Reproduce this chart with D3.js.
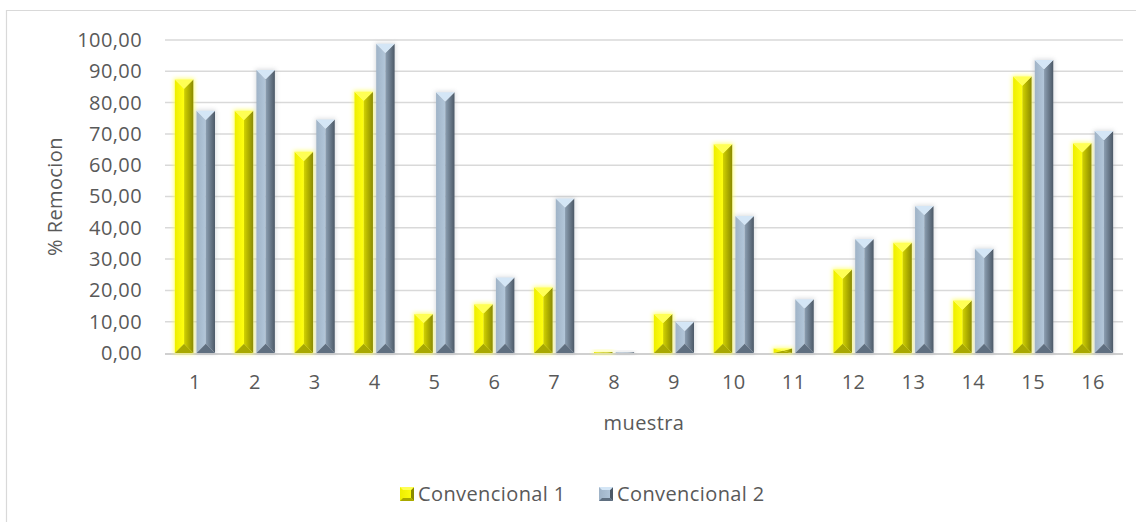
<!DOCTYPE html>
<html>
<head>
<meta charset="utf-8">
<script src="https://cdn.jsdelivr.net/npm/d3@7"></script>
<style>
  html, body { margin: 0; padding: 0; background: #ffffff; }
  svg { display: block; }
  text { font-family: "Open Sans", "Noto Sans", sans-serif; fill: #595959; font-size: 20px; letter-spacing: 0.4px; }
</style>
</head>
<body>
<svg id="chart" width="1136" height="522"></svg>
<script>
// Sample numbers 1..16
const categories = ["1","2","3","4","5","6","7","8","9","10","11","12","13","14","15","16"];
const seriesNames = ["Convencional 1", "Convencional 2"];
// % removal per sample
const conv1 = [87.4, 77.4, 64.3, 83.5, 12.5, 15.6, 20.9, 0.3, 12.5, 66.7, 1.4, 26.7, 35.2, 16.8, 88.3, 67.0];
const conv2 = [77.4, 90.4, 74.6, 98.8, 83.3, 24.1, 49.4, 0.2, 10.0, 43.8, 17.2, 36.4, 47.0, 33.3, 93.6, 70.9];
const yTicks = [0, 10, 20, 30, 40, 50, 60, 70, 80, 90, 100];

const svg = d3.select("#chart");
const W = 1136, H = 522;
const plot = { left: 165, right: 1123, top: 40, bottom: 353 };

// outer chart frame (left and top edges visible)
svg.append("path")
  .attr("d", `M6.5,${H} L6.5,10.5 L${W},10.5`)
  .attr("fill", "none").attr("stroke", "#d9d9d9").attr("stroke-width", 1.2);

const y = d3.scaleLinear().domain([0, 100]).range([plot.bottom, plot.top]);
const x0 = d3.scaleBand().domain(categories).range([plot.left, plot.right])
  .paddingInner(0.33).paddingOuter(0.165);
const x1 = d3.scaleBand().domain(seriesNames).range([0, x0.bandwidth()]).paddingInner(0.15);

// colour sets for bevelled bars
const palette = {
  "Convencional 1": {
    top: "#ffff55", bottom: "#a8a800",
    left: ["#eeee00", "#ffff10"], right: ["#d2d200", "#8a8a00"],
    glow: "#ffff60", glowOpacity: 0.85
  },
  "Convencional 2": {
    top: "#d4e6f6", bottom: "#5f6f80",
    left: ["#9fb3c7", "#b3c7da"], right: ["#8c9fb2", "#4c5967"],
    glow: "#9aa0a8", glowOpacity: 0.35
  }
};

const defs = svg.append("defs");
defs.append("filter").attr("id", "soft").attr("x", "-50%").attr("y", "-50%")
  .attr("width", "200%").attr("height", "200%")
  .append("feGaussianBlur").attr("stdDeviation", 2.2);

seriesNames.forEach((s, i) => {
  const p = palette[s];
  const gl = defs.append("linearGradient").attr("id", `left${i}`)
    .attr("x1", 0).attr("x2", 1).attr("y1", 0).attr("y2", 0);
  gl.append("stop").attr("offset", 0).attr("stop-color", p.left[0]);
  gl.append("stop").attr("offset", 1).attr("stop-color", p.left[1]);
  const gr = defs.append("linearGradient").attr("id", `right${i}`)
    .attr("x1", 0).attr("x2", 1).attr("y1", 0).attr("y2", 0);
  gr.append("stop").attr("offset", 0).attr("stop-color", p.right[0]);
  gr.append("stop").attr("offset", 1).attr("stop-color", p.right[1]);
});

// gridlines
svg.append("g").selectAll("line").data(yTicks.slice(1)).join("line")
  .attr("x1", plot.left).attr("x2", plot.right)
  .attr("y1", d => y(d)).attr("y2", d => y(d))
  .attr("stroke", "#d9d9d9").attr("stroke-width", 1.5);

// y-axis labels
const fmt = v => d3.format(".2f")(v).replace(".", ",");
const yAxis = d3.axisLeft(y).tickValues(yTicks).tickFormat(fmt).tickSize(0).tickPadding(0);
const yg = svg.append("g").attr("transform", `translate(142,0)`).call(yAxis);
yg.select(".domain").remove();
yg.attr("font-size", null).attr("font-family", null);
yg.selectAll("text").attr("fill", "#595959");

// bevelled bar drawing
function bevel(g, bx, bw, top, bottom, s, i) {
  const p = palette[s];
  const h = bottom - top;
  const d = Math.min(bw / 2, h / 2);
  const cx = bx + bw / 2;
  const xr = bx + bw;
  // halo / shadow
  g.append("rect").attr("x", bx - 1).attr("y", top - 1).attr("width", bw + 2).attr("height", h + 2)
    .attr("fill", p.glow).attr("opacity", p.glowOpacity).attr("filter", "url(#soft)");
  g.append("polygon")
    .attr("points", [[bx, top], [cx, top + d], [cx, bottom - d], [bx, bottom]].join(" "))
    .attr("fill", `url(#left${i})`);
  g.append("polygon")
    .attr("points", [[cx, top + d], [xr, top], [xr, bottom], [cx, bottom - d]].join(" "))
    .attr("fill", `url(#right${i})`);
  g.append("polygon")
    .attr("points", [[bx, top], [xr, top], [cx, top + d]].join(" "))
    .attr("fill", p.top);
  g.append("polygon")
    .attr("points", [[bx, bottom], [cx, bottom - d], [xr, bottom]].join(" "))
    .attr("fill", p.bottom);
}

// x-axis baseline
svg.append("line").attr("x1", plot.left).attr("x2", plot.right)
  .attr("y1", y(0) + 1).attr("y2", y(0) + 1)
  .attr("stroke", "#d0d0d0").attr("stroke-width", 2.2);

const series = [conv1, conv2];
const bars = svg.append("g");
categories.forEach((c, ci) => {
  seriesNames.forEach((s, si) => {
    const v = series[si][ci];
    const g = bars.append("g");
    bevel(g, x0(c) + x1(s), x1.bandwidth(), y(v), y(0), s, si);
  });
});

// x-axis category labels
const xAxis = d3.axisBottom(x0).tickSize(0).tickPadding(0);
const xg = svg.append("g").attr("transform", `translate(0,375)`).call(xAxis);
xg.select(".domain").remove();
xg.attr("font-size", null).attr("font-family", null);
xg.selectAll("text").attr("fill", "#595959").attr("dy", "0.71em");

// axis titles
svg.append("text").attr("transform", `translate(55,${(plot.top + plot.bottom) / 2}) rotate(-90)`)
  .attr("text-anchor", "middle").attr("dy", "0.35em")
  .text("% Remocion");
svg.append("text").attr("x", (plot.left + plot.right) / 2).attr("y", 423)
  .attr("text-anchor", "middle").attr("dy", "0.35em")
  .text("muestra");

// legend
const legendItems = [{ s: seriesNames[0], x: 400 }, { s: seriesNames[1], x: 599 }];
legendItems.forEach((it, i) => {
  const g = svg.append("g");
  const ly = 494;
  const sz = 14;
  const p = palette[it.s];
  const bx = it.x, top = ly - sz / 2, bottom = ly + sz / 2, xr = bx + sz;
  g.append("rect").attr("x", bx).attr("y", top).attr("width", sz).attr("height", sz).attr("fill", `url(#left${i})`);
  g.append("polygon").attr("points", [[xr, top], [xr, bottom], [xr - 3, bottom - 3], [xr - 3, top + 3]].join(" ")).attr("fill", p.right[1]);
  g.append("polygon").attr("points", [[bx, bottom], [xr, bottom], [xr - 3, bottom - 3], [bx + 3, bottom - 3]].join(" ")).attr("fill", p.bottom);
  g.append("polygon").attr("points", [[bx, top], [xr, top], [xr - 3, top + 3], [bx + 3, top + 3]].join(" ")).attr("fill", p.top);
  g.append("text").attr("x", bx + sz + 4).attr("y", ly).attr("dy", "0.35em")
    .text(it.s);
});
</script>
</body>
</html>
